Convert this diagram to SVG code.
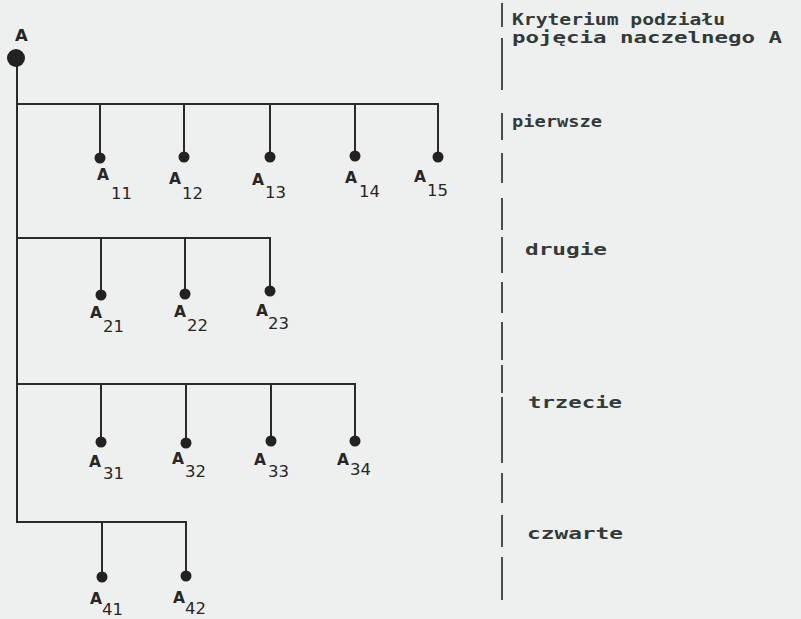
<svg xmlns="http://www.w3.org/2000/svg" width="801" height="619" viewBox="0 0 801 619">
<style>
.ln{fill:none;stroke:#2a2a2a;stroke-width:2;stroke-linecap:square;stroke-linejoin:miter}
.dl{fill:none;stroke:#4a4d4d;stroke-width:2}
.dot{fill:#222}
.a{font-family:"DejaVu Sans",sans-serif;font-weight:bold;font-size:15.5px;fill:#262626}
.s{font-family:"DejaVu Sans",sans-serif;font-size:16.5px;fill:#262626}
.k{font-family:"DejaVu Sans Mono","Liberation Mono",monospace;font-weight:bold;font-size:16px;fill:#333a3a}
</style>
<rect width="801" height="619" fill="#eef0ef"/>
<g id="connectors">
<path class="ln" d="M17 58 V522 H186 V576"/>
<path class="ln" d="M102 522 V577"/>
<path class="ln" d="M17 104 H438 V157"/>
<path class="ln" d="M100 104 V158 M184 104 V157 M270 104 V157 M355 104 V156"/>
<path class="ln" d="M17 238 H270 V291"/>
<path class="ln" d="M101 238 V295 M185 238 V293"/>
<path class="ln" d="M17 384 H355 V441"/>
<path class="ln" d="M101 384 V442 M186 384 V443 M271 384 V441"/>
</g>
<g id="divider">
<path class="dl" d="M502 3 V27 M502 38 V90 M502 113 V140 M502 153 V183 M502 198 V230 M502 237 V273 M502 282 V313 M502 322 V360 M502 365 V393 M502 397 V463 M502 473 V503 M502 515 V547 M502 557 V600"/>
</g>
<g id="root"><circle class="dot" cx="16" cy="58" r="9"/><text class="a" x="15" y="41" style="font-size:16.5px">A</text></g>
<g id="n11"><circle class="dot" cx="100" cy="158" r="5.5"/><text><tspan class="a" x="97" y="180">A</tspan><tspan class="s" x="111" y="199">11</tspan></text></g>
<g id="n12"><circle class="dot" cx="184" cy="157" r="5.5"/><text><tspan class="a" x="169" y="184">A</tspan><tspan class="s" x="182" y="199">12</tspan></text></g>
<g id="n13"><circle class="dot" cx="270" cy="157" r="5.5"/><text><tspan class="a" x="252" y="185">A</tspan><tspan class="s" x="265" y="198">13</tspan></text></g>
<g id="n14"><circle class="dot" cx="355" cy="156" r="5.5"/><text><tspan class="a" x="345" y="183">A</tspan><tspan class="s" x="359" y="197">14</tspan></text></g>
<g id="n15"><circle class="dot" cx="438" cy="157" r="5.5"/><text><tspan class="a" x="414" y="182">A</tspan><tspan class="s" x="427" y="196">15</tspan></text></g>
<g id="n21"><circle class="dot" cx="101" cy="295" r="5.5"/><text><tspan class="a" x="90" y="318">A</tspan><tspan class="s" x="103" y="332">21</tspan></text></g>
<g id="n22"><circle class="dot" cx="185" cy="294" r="5.5"/><text><tspan class="a" x="174" y="317">A</tspan><tspan class="s" x="187" y="331">22</tspan></text></g>
<g id="n23"><circle class="dot" cx="270" cy="291" r="5.5"/><text><tspan class="a" x="256" y="316">A</tspan><tspan class="s" x="268" y="329">23</tspan></text></g>
<g id="n31"><circle class="dot" cx="101" cy="442" r="5.5"/><text><tspan class="a" x="89" y="467">A</tspan><tspan class="s" x="103" y="479">31</tspan></text></g>
<g id="n32"><circle class="dot" cx="186" cy="443" r="5.5"/><text><tspan class="a" x="172" y="464">A</tspan><tspan class="s" x="185" y="477">32</tspan></text></g>
<g id="n33"><circle class="dot" cx="271" cy="441" r="5.5"/><text><tspan class="a" x="254" y="465">A</tspan><tspan class="s" x="268" y="477">33</tspan></text></g>
<g id="n34"><circle class="dot" cx="355" cy="441" r="5.5"/><text><tspan class="a" x="337" y="465">A</tspan><tspan class="s" x="350" y="475">34</tspan></text></g>
<g id="n41"><circle class="dot" cx="102" cy="577" r="5.5"/><text><tspan class="a" x="90" y="604">A</tspan><tspan class="s" x="102" y="615">41</tspan></text></g>
<g id="n42"><circle class="dot" cx="186" cy="576" r="5.5"/><text><tspan class="a" x="173" y="603">A</tspan><tspan class="s" x="185" y="614">42</tspan></text></g>
<g id="criteria">
<text class="k" x="512" y="25" textLength="213" lengthAdjust="spacingAndGlyphs">Kryterium podziału</text>
<text class="k" x="512" y="43" textLength="270" lengthAdjust="spacingAndGlyphs">pojęcia naczelnego A</text>
<text class="k" x="512" y="127" textLength="90" lengthAdjust="spacingAndGlyphs">pierwsze</text>
<text class="k" x="525" y="255" textLength="82" lengthAdjust="spacingAndGlyphs">drugie</text>
<text class="k" x="528" y="408" textLength="94" lengthAdjust="spacingAndGlyphs">trzecie</text>
<text class="k" x="527" y="539" textLength="96" lengthAdjust="spacingAndGlyphs">czwarte</text>
</g>
</svg>
